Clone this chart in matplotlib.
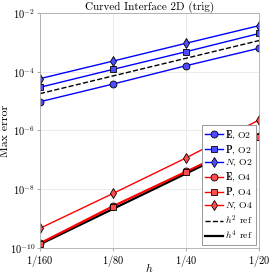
import numpy as np
import matplotlib
matplotlib.use("Agg")
import matplotlib.pyplot as plt

plt.rcParams['mathtext.fontset'] = 'cm'
plt.rcParams['font.family'] = 'serif'
plt.rcParams['font.serif'] = ['cmr10', 'DejaVu Serif']
plt.rcParams['axes.formatter.use_mathtext'] = True

h = np.array([1/160, 1/80, 1/40, 1/20])
h_labels = ['$1/160$', '$1/80$', '$1/40$', '$1/20$']

E_O2 = [9.5e-6, 3.8e-5, 1.6e-4, 6.3e-4]
P_O2 = [2.95e-5, 1.2e-4, 4.8e-4, 2.0e-3]
N_O2 = [5.8e-5, 2.3e-4, 9.3e-4, 3.7e-3]
E_O4 = [1.5e-10, 2.75e-9, 4.1e-8, 6.3e-7]
P_O4 = [1.4e-10, 2.55e-9, 3.9e-8, 6.1e-7]
N_O4 = [4.7e-10, 7.2e-9, 1.17e-7, 2.3e-6]
ref2 = 0.46 * h**2
ref4 = 0.088 * h**4

fig = plt.figure(figsize=(2.7, 2.75), dpi=100)
ax = fig.add_axes([0.148, 0.098, 0.812, 0.855])

blue_face = (0.3, 0.3, 1.0)
red_face = (1.0, 0.3, 0.3)
ms = 5
kw = dict(markeredgecolor='black', markeredgewidth=0.6, markersize=ms)

ax.loglog(h, E_O2, '-o', color='blue', markerfacecolor=blue_face, lw=1.0, label=r'$\mathbf{E}$, O2', **kw)
ax.loglog(h, P_O2, '-s', color='blue', markerfacecolor=blue_face, lw=1.0, label=r'$\mathbf{P}$, O2', **kw)
ax.loglog(h, N_O2, '-d', color='blue', markerfacecolor=blue_face, lw=1.0, label=r'$N$, O2', **kw)
ax.loglog(h, E_O4, '-o', color='red', markerfacecolor=red_face, lw=1.0, label=r'$\mathbf{E}$, O4', **kw)
ax.loglog(h, P_O4, '-s', color='red', markerfacecolor=red_face, lw=1.0, label=r'$\mathbf{P}$, O4', **kw)
ax.loglog(h, N_O4, '-d', color='red', markerfacecolor=red_face, lw=1.0, label=r'$N$, O4', **kw)
ax.loglog(h, ref2, '--', color='black', lw=1.0, label=r'$h^2$ ref')
ax.loglog(h, ref4, '-', color='black', lw=1.6, label=r'$h^4$ ref', zorder=1.5)

ax.set_xlim(1/160, 1/20)
ax.set_ylim(1e-10, 1e-2)
ax.set_xticks(h)
ax.set_xticklabels(h_labels)
ax.xaxis.set_minor_locator(matplotlib.ticker.NullLocator())
ax.set_yticks([1e-10, 1e-8, 1e-6, 1e-4, 1e-2])
ax.yaxis.set_minor_locator(matplotlib.ticker.NullLocator())
ax.tick_params(labelsize=7.5, length=2, width=0.5, color='#888888', pad=1.5)
ax.grid(True, color='#e8e8e8', lw=0.6)
ax.set_axisbelow(True)
for s in ax.spines.values():
    s.set_color('#aaaaaa')
    s.set_linewidth(0.6)

ax.set_title('Curved Interface 2D (trig)', fontsize=8, pad=2)
ax.set_xlabel('$h$', fontsize=8.5)
ax.set_ylabel('Max error', fontsize=8.5)
ax.xaxis.set_label_coords(0.5, -0.055)
ax.yaxis.set_label_coords(-0.135, 0.5)

leg = ax.legend(loc='lower right', fontsize=7, handlelength=1.8, handletextpad=0.3,
                labelspacing=0.15, borderpad=0.3, borderaxespad=0.3,
                fancybox=False, framealpha=1, edgecolor='#888888')
leg.get_frame().set_linewidth(0.6)

fig.savefig('out.png', dpi=100)
